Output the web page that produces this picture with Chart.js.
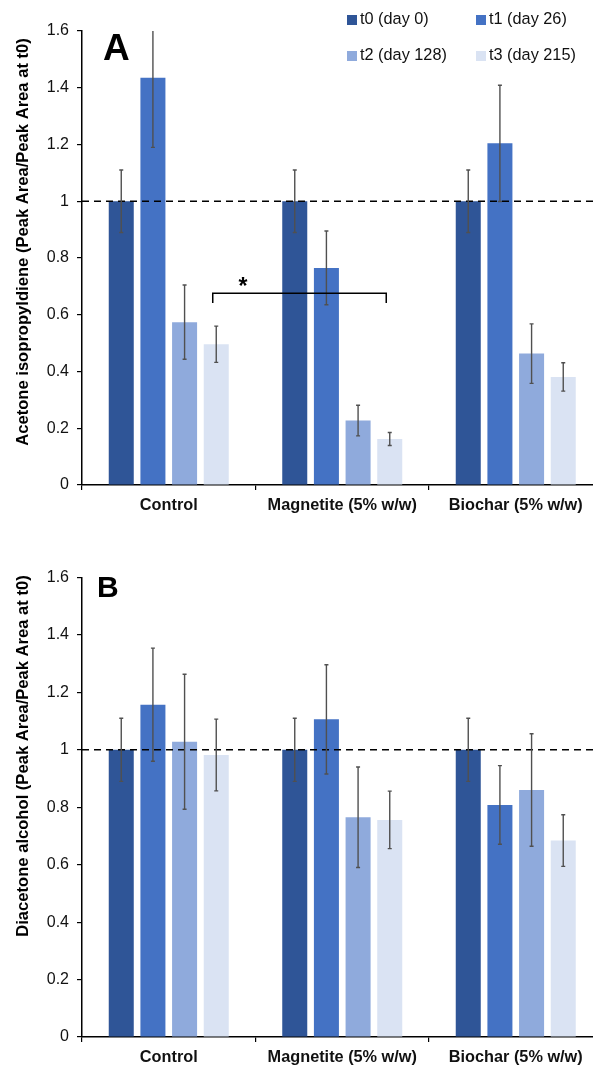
<!DOCTYPE html>
<html>
<head>
<meta charset="utf-8">
<script src="https://cdn.jsdelivr.net/npm/chart.js@4.4.1/dist/chart.umd.min.js"></script>
<style>
    html, body { margin: 0; padding: 0; background: #fff; overflow: hidden; }
    body { width: 593px; height: 1070px; position: relative; }
    .panel { position: absolute; left: 0; }
    #panelA { top: 0; }
    #panelB { top: 545px; }
</style>
</head>
<body>
<div class="panel" id="panelA"><canvas id="chartA" width="606" height="530"></canvas></div>
<div class="panel" id="panelB"><canvas id="chartB" width="606" height="525"></canvas></div>
<script>
const categories = ['Control', 'Magnetite (5% w/w)', 'Biochar (5% w/w)'];
const seriesLabels = ['t0 (day 0)', 't1 (day 26)', 't2 (day 128)', 't3 (day 215)'];
const yTickLabels = ['0', '0.2', '0.4', '0.6', '0.8', '1', '1.2', '1.4', '1.6'];

// Panel A - acetone isopropyldiene, mean and error per timepoint
const acetoneT0 = [1.0, 1.0, 1.0];
const acetoneT1 = [1.435, 0.765, 1.204];
const acetoneT2 = [0.574, 0.227, 0.463];
const acetoneT3 = [0.496, 0.162, 0.381];
const acetoneErrT0 = [0.11, 0.11, 0.11];
const acetoneErrT1 = [0.245, 0.13, 0.205];
const acetoneErrT2 = [0.131, 0.054, 0.105];
const acetoneErrT3 = [0.064, 0.023, 0.05];

// Panel B - diacetone alcohol
const diacetoneT0 = [1.0, 1.0, 1.0];
const diacetoneT1 = [1.157, 1.106, 0.808];
const diacetoneT2 = [1.028, 0.765, 0.86];
const diacetoneT3 = [0.982, 0.756, 0.684];
const diacetoneErrT0 = [0.11, 0.11, 0.11];
const diacetoneErrT1 = [0.197, 0.19, 0.137];
const diacetoneErrT2 = [0.235, 0.175, 0.196];
const diacetoneErrT3 = [0.125, 0.1, 0.09];

const refLine = 1;
const bracketLevel = 0.676;
const bracketDrop = 0.035;

const colors = ['#2F5597', '#4472C4', '#8FAADC', '#DAE3F3'];
const FONT = '"Liberation Sans", Arial, Helvetica, sans-serif';

function buildDatasets(values, errors) {
    return values.map((v, i) => ({
        label: seriesLabels[i],
        data: v,
        errors: errors[i],
        backgroundColor: colors[i],
        borderWidth: 0,
        categoryPercentage: 0.73,
        barPercentage: 0.79,
    }));
}

const overlayPlugin = {
    id: 'overlay',
    afterDatasetsDraw(chart, args, opts) {
        const { ctx, chartArea: area, scales } = chart;
        const y = scales.y;

        // dashed reference line at 1
        ctx.save();
        ctx.strokeStyle = '#000';
        ctx.lineWidth = 1.5;
        ctx.setLineDash([7, 5]);
        ctx.beginPath();
        ctx.moveTo(area.left, y.getPixelForValue(refLine));
        ctx.lineTo(area.right, y.getPixelForValue(refLine));
        ctx.stroke();
        ctx.restore();

        // error bars
        ctx.save();
        ctx.beginPath();
        ctx.rect(area.left, area.top, area.width, area.height);
        ctx.clip();
        ctx.strokeStyle = '#505050';
        ctx.lineWidth = 1.4;
        chart.data.datasets.forEach((ds, di) => {
            chart.getDatasetMeta(di).data.forEach((bar, i) => {
                const v = ds.data[i], e = ds.errors[i];
                const top = y.getPixelForValue(v + e);
                const bot = y.getPixelForValue(v - e);
                ctx.beginPath();
                ctx.moveTo(bar.x, top);
                ctx.lineTo(bar.x, bot);
                ctx.moveTo(bar.x - 2, top);
                ctx.lineTo(bar.x + 2, top);
                ctx.moveTo(bar.x - 2, bot);
                ctx.lineTo(bar.x + 2, bot);
                ctx.stroke();
            });
        });
        ctx.restore();

        // significance bracket
        if (opts.bracket) {
            const x1 = chart.getDatasetMeta(3).data[0].x - 3.5;
            const x2 = chart.getDatasetMeta(3).data[1].x - 3.5;
            const yb = y.getPixelForValue(bracketLevel);
            const yd = y.getPixelForValue(bracketLevel - bracketDrop);
            ctx.save();
            ctx.strokeStyle = '#000';
            ctx.lineWidth = 1.5;
            ctx.beginPath();
            ctx.moveTo(x1, yd);
            ctx.lineTo(x1, yb);
            ctx.lineTo(x2, yb);
            ctx.lineTo(x2, yd);
            ctx.stroke();
            ctx.fillStyle = '#000';
            ctx.font = 'bold 23px ' + FONT;
            ctx.textAlign = 'center';
            ctx.textBaseline = 'alphabetic';
            ctx.fillText('*', x1 + (x2 - x1) * 0.174, yb + 1);
            ctx.restore();
        }

        // panel letter
        ctx.save();
        ctx.fillStyle = '#000';
        ctx.font = 'bold ' + opts.letterSize + 'px ' + FONT;
        ctx.textBaseline = 'alphabetic';
        ctx.fillText(opts.letter, opts.letterX, opts.letterY);
        ctx.restore();

        // rotated axis title
        ctx.save();
        ctx.fillStyle = '#000';
        ctx.font = 'bold 16.6px ' + FONT;
        ctx.textAlign = 'center';
        ctx.textBaseline = 'middle';
        ctx.translate(23, opts.titleY);
        ctx.rotate(-Math.PI / 2);
        ctx.fillText(opts.title, 0, 0);
        ctx.restore();

        // legend
        if (opts.legend) {
            const cols = [347, 476];
            const rows = [20, 56];
            ctx.save();
            ctx.font = '16.3px ' + FONT;
            ctx.textBaseline = 'middle';
            seriesLabels.forEach((lab, i) => {
                const sx = cols[i % 2], cy = rows[Math.floor(i / 2)];
                ctx.fillStyle = colors[i];
                ctx.fillRect(sx, cy - 5, 10, 10);
                ctx.fillStyle = '#111';
                ctx.fillText(lab, sx + 13, cy);
            });
            ctx.restore();
        }
    },
};

function makeChart(id, datasets, padTop, xHeight, overlay) {
    return new Chart(document.getElementById(id), {
        type: 'bar',
        data: { labels: categories, datasets },
        plugins: [overlayPlugin],
        options: {
            responsive: false,
            animation: false,
            layout: { padding: { top: padTop, left: 0, right: 3.5, bottom: 0 } },
            plugins: {
                legend: { display: false },
                tooltip: { enabled: false },
                overlay,
            },
            scales: {
                x: {
                    afterFit: (s) => { s.height = xHeight; },
                    grid: { offset: true, drawOnChartArea: false, tickLength: 5, color: '#000', lineWidth: 1.2 },
                    border: { color: '#000', width: 1.5 },
                    ticks: {
                        padding: 6,
                        color: '#111',
                        font: { family: FONT, size: 16.3, weight: 'bold' },
                    },
                },
                y: {
                    min: 0,
                    max: 1.6,
                    afterFit: (s) => { s.width = 82; },
                    grid: { drawOnChartArea: false, tickLength: 5, color: '#000', lineWidth: 1.2 },
                    border: { color: '#000', width: 1.5 },
                    ticks: {
                        stepSize: 0.2,
                        padding: 8,
                        color: '#111',
                        font: { family: FONT, size: 16 },
                        callback: (v, i) => yTickLabels[i],
                    },
                },
            },
        },
    });
}

makeChart('chartA',
    buildDatasets([acetoneT0, acetoneT1, acetoneT2, acetoneT3],
                  [acetoneErrT0, acetoneErrT1, acetoneErrT2, acetoneErrT3]),
    31, 45,
    { letter: 'A', letterSize: 37, letterX: 103, letterY: 60,
      title: 'Acetone isopropyldiene (Peak Area/Peak Area at t0)', titleY: 242,
      legend: true, bracket: true });

makeChart('chartB',
    buildDatasets([diacetoneT0, diacetoneT1, diacetoneT2, diacetoneT3],
                  [diacetoneErrT0, diacetoneErrT1, diacetoneErrT2, diacetoneErrT3]),
    32.5, 33,
    { letter: 'B', letterSize: 30, letterX: 97, letterY: 52,
      title: 'Diacetone alcohol (Peak Area/Peak Area at t0)', titleY: 211,
      legend: false, bracket: false });
</script>
</body>
</html>
